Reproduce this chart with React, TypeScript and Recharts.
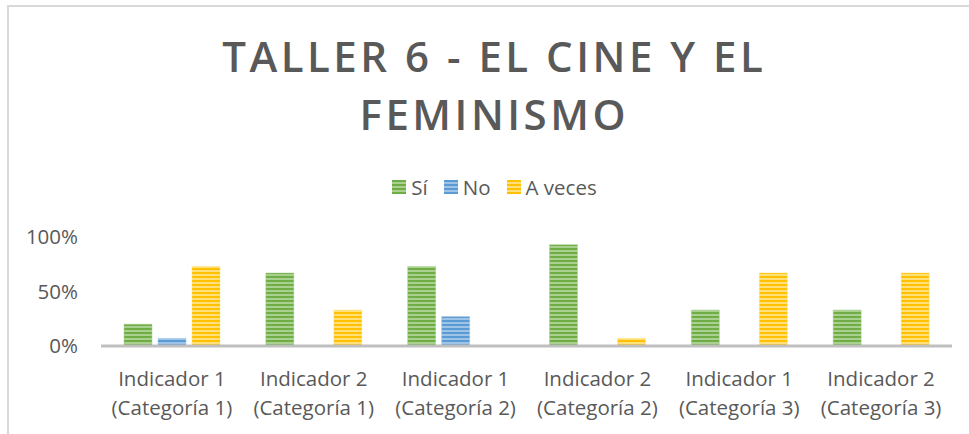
import { Bar, BarChart, Legend, XAxis, YAxis } from "recharts";

const CATEGORIES = [
  ["Indicador 1", "(Categoría 1)"],
  ["Indicador 2", "(Categoría 1)"],
  ["Indicador 1", "(Categoría 2)"],
  ["Indicador 2", "(Categoría 2)"],
  ["Indicador 1", "(Categoría 3)"],
  ["Indicador 2", "(Categoría 3)"],
];
const SI = [20, 67, 73, 93, 33, 33];
const NO = [7, 0, 27, 0, 0, 0];
const A_VECES = [73, 33, 0, 7, 67, 67];
const Y_TICKS = [0, 50, 100];

const SERIES = [
  { key: "si", name: "Sí", color: "#70ad47", light: "#a9d08e" },
  { key: "no", name: "No", color: "#5b9bd5", light: "#9dc3e6" },
  { key: "aveces", name: "A veces", color: "#ffc000", light: "#ffe07a" },
];

const TEXT = "#595959";
const FONT = "'Open Sans', sans-serif";

const data = CATEGORIES.map((c, i) => ({
  label: c.join("\n"),
  si: SI[i],
  no: NO[i],
  aveces: A_VECES[i],
}));

function CategoryTick({ x, y, payload }: any) {
  const [l1, l2] = String(payload.value).split("\n");
  return (
    <text x={x} y={y} textAnchor="middle" fill={TEXT} fontSize={20.5} fontFamily={FONT}>
      <tspan x={x} dy={32}>{l1}</tspan>
      <tspan x={x} dy={29}>{l2}</tspan>
    </text>
  );
}

function LegendContent() {
  return (
    <div style={{ display: "flex", justifyContent: "center", fontFamily: FONT, fontSize: 20.5, color: TEXT, lineHeight: "24px" }}>
      {SERIES.map((s) => (
        <div key={s.key} style={{ display: "flex", alignItems: "center", marginRight: 16 }}>
          <span
            style={{
              display: "inline-block",
              width: 14,
              height: 14,
              marginRight: 5,
              background: `repeating-linear-gradient(to bottom, ${s.color} 0 2px, ${s.light} 2px 4px)`,
            }}
          />
          {s.name}
        </div>
      ))}
    </div>
  );
}

export default function App() {
  return (
    <div
      style={{
        position: "absolute",
        left: 0,
        top: 0,
        width: 969,
        height: 434,
        overflow: "hidden",
        background: "#fff",
      }}
    >
      <div
        style={{
          position: "absolute",
          left: 7,
          top: 5,
          width: 1000,
          height: 500,
          borderTop: "2px solid #d9d9d9",
          borderLeft: "2px solid #d9d9d9",
        }}
      />
      <div
        style={{
          position: "absolute",
          left: 8,
          top: 27,
          width: 969,
          textAlign: "center",
          fontFamily: FONT,
          fontWeight: 600,
          fontSize: 42,
          lineHeight: "58px",
          letterSpacing: 3.5,
          paddingLeft: 3.5,
          boxSizing: "border-box",
          color: TEXT,
        }}
      >
        TALLER 6 - EL CINE Y EL
        <br />
        FEMINISMO
      </div>
      <div style={{ position: "absolute", left: 0, top: 0 }}>
        <BarChart
          width={969}
          height={434}
          data={data}
          margin={{ top: 237, right: 17, left: 0, bottom: 8 }}
          barSize={28}
          barGap={6}
        >
          <defs>
            {SERIES.map((s) => (
              <pattern key={s.key} id={`stripe-${s.key}`} width={4} height={4} patternUnits="userSpaceOnUse">
                <rect width={4} height={4} fill={s.color} />
                <rect y={2} width={4} height={2} fill={s.light} />
              </pattern>
            ))}
          </defs>
          <XAxis
            dataKey="label"
            interval={0}
            height={80}
            tickLine={false}
            axisLine={{ stroke: "#bfbfbf", strokeWidth: 3 }}
            tick={<CategoryTick />}
          />
          <YAxis
            width={101}
            domain={[0, 100]}
            ticks={Y_TICKS}
            tickFormatter={(v) => `${v}%`}
            axisLine={false}
            tickLine={false}
            tickSize={0}
            tickMargin={23}
            tick={{ fill: TEXT, fontSize: 20.5, fontFamily: FONT }}
          />
          <Legend
            layout="horizontal"
            align="center"
            verticalAlign="middle"
            content={<LegendContent />}
            wrapperStyle={{ top: 175, left: 18, width: 969 }}
          />
          {SERIES.map((s) => (
            <Bar
              key={s.key}
              dataKey={s.key}
              name={s.name}
              fill={`url(#stripe-${s.key})`}
              stroke={s.light}
              strokeWidth={0.5}
              isAnimationActive={false}
            />
          ))}
        </BarChart>
      </div>
    </div>
  );
}
